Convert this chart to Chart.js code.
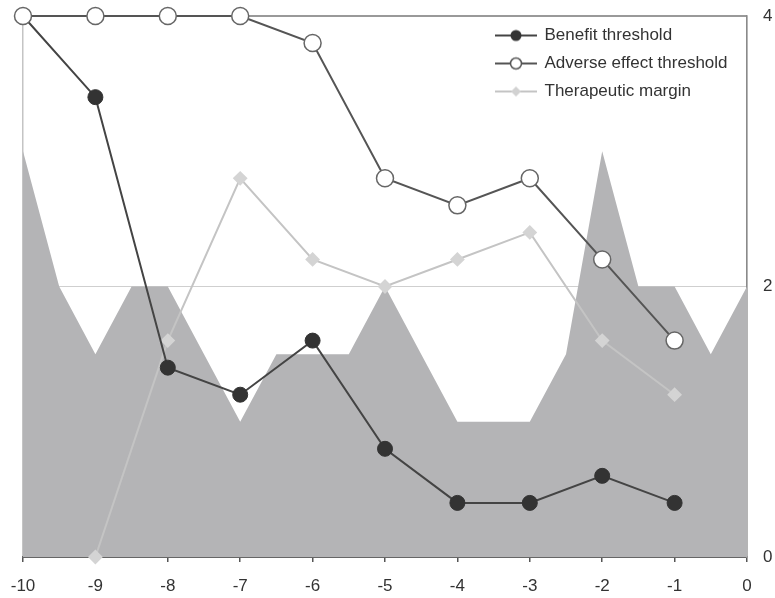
<!DOCTYPE html>
<html lang="en">
<head>
    <meta charset="UTF-8">
    <title>Benefit and adverse effect thresholds</title>
    <script src="https://cdn.jsdelivr.net/npm/chart.js"></script>
    <style>
        body { margin: 0; background: #fff; }
        #wrap { width: 775px; height: 598px; }
    </style>
</head>
<body>
    <div id="wrap"><canvas id="myChart"></canvas></div>

    <script>
        // Values
        const pointX = [-10, -9, -8, -7, -6, -5, -4, -3, -2, -1];
        const benefit = [4, 3.4, 1.4, 1.2, 1.6, 0.8, 0.4, 0.4, 0.6, 0.4];
        const adverse = [4, 4, 4, 4, 3.8, 2.8, 2.6, 2.8, 2.2, 1.6];
        const marginX = [-9, -8, -7, -6, -5, -4, -3, -2, -1];
        const margin = [0, 1.6, 2.8, 2.2, 2.0, 2.2, 2.4, 1.6, 1.2];
        // gray background profile, every half step
        const areaX = [-10, -9.5, -9, -8.5, -8, -7.5, -7, -6.5, -6, -5.5, -5,
                       -4.5, -4, -3.5, -3, -2.5, -2, -1.5, -1, -0.5, 0];
        const area = [3, 2, 1.5, 2, 2, 1.5, 1, 1.5, 1.5, 1.5, 2,
                      1.5, 1, 1, 1, 1.5, 3, 2, 2, 1.5, 2];
        const seriesNames = ['Benefit threshold', 'Adverse effect threshold', 'Therapeutic margin'];
        const yTicks = [0, 2, 4];

        const FONT = '"Liberation Sans", Arial, sans-serif';
        const toXY = (xs, ys) => xs.map((x, i) => ({ x: x, y: ys[i] }));

        // little line+marker pictures for the legend
        function legendIcon(lineColor, draw) {
            const c = document.createElement('canvas');
            c.width = 42; c.height = 16;
            const g = c.getContext('2d');
            g.strokeStyle = lineColor;
            g.lineWidth = 2;
            g.beginPath(); g.moveTo(0, 8); g.lineTo(42, 8); g.stroke();
            draw(g);
            return c;
        }
        const icons = [
            legendIcon('#444', g => {
                g.fillStyle = '#333';
                g.beginPath(); g.arc(21, 8, 5.5, 0, Math.PI * 2); g.fill();
            }),
            legendIcon('#555', g => {
                g.fillStyle = '#fff'; g.strokeStyle = '#555'; g.lineWidth = 1.5;
                g.beginPath(); g.arc(21, 8, 5.5, 0, Math.PI * 2); g.fill(); g.stroke();
            }),
            legendIcon('#c4c4c4', g => {
                g.fillStyle = '#d2d2d2';
                g.beginPath(); g.moveTo(21, 3); g.lineTo(26, 8); g.lineTo(21, 13); g.lineTo(16, 8);
                g.closePath(); g.fill();
            })
        ];

        // put the legend inside the plot, top right
        const legendMover = {
            id: 'legendMover',
            afterLayout(chart) {
                const lg = chart.legend;
                const w = lg.width;
                lg.left = 485;
                lg.top = 16;
                lg.right = lg.left + w;
                lg.bottom = lg.top + 200;
            }
        };

        const ctx = document.getElementById('myChart').getContext('2d');
        const chart = new Chart(ctx, {
            type: 'line',
            data: {
                datasets: [
                    {
                        label: seriesNames[0],
                        data: toXY(pointX, benefit),
                        borderColor: '#444',
                        borderWidth: 2,
                        pointBackgroundColor: '#333',
                        pointBorderColor: '#333',
                        pointBorderWidth: 1,
                        pointRadius: 7.5,
                        clip: false,
                        order: 1
                    },
                    {
                        label: seriesNames[1],
                        data: toXY(pointX, adverse),
                        borderColor: '#555',
                        borderWidth: 2,
                        pointBackgroundColor: '#fff',
                        pointBorderColor: '#666',
                        pointBorderWidth: 1.5,
                        pointRadius: 8.5,
                        clip: false,
                        order: 0
                    },
                    {
                        label: seriesNames[2],
                        data: toXY(marginX, margin),
                        borderColor: '#c4c4c4',
                        borderWidth: 2,
                        pointStyle: 'rectRot',
                        pointBackgroundColor: '#d4d4d4',
                        pointBorderColor: '#d4d4d4',
                        pointRadius: 6,
                        clip: false,
                        order: 2
                    },
                    {
                        label: 'background',
                        data: toXY(areaX, area),
                        borderWidth: 0,
                        borderColor: 'rgba(0,0,0,0)',
                        backgroundColor: '#b4b4b6',
                        fill: 'origin',
                        pointRadius: 0,
                        order: 3
                    }
                ]
            },
            options: {
                responsive: true,
                maintainAspectRatio: false,
                animation: false,
                layout: { padding: { left: 23, top: 16, right: 0, bottom: 0 } },
                plugins: {
                    tooltip: { enabled: false },
                    legend: {
                        position: 'chartArea',
                        align: 'start',
                        labels: {
                            color: '#333',
                            font: { family: FONT, size: 17 },
                            usePointStyle: true,
                            pointStyleWidth: 40,
                            padding: 11,
                            filter: item => item.datasetIndex < 3,
                            sort: (a, b) => a.datasetIndex - b.datasetIndex,
                            generateLabels(chart) {
                                const items = Chart.defaults.plugins.legend.labels.generateLabels(chart);
                                items.forEach(it => { it.pointStyle = icons[it.datasetIndex]; });
                                return items;
                            }
                        }
                    }
                },
                scales: {
                    x: {
                        type: 'linear',
                        min: -10,
                        max: 0,
                        afterFit: axis => {
                            axis.height = 41;
                            axis.paddingLeft = 0; axis.paddingRight = 0;
                        },
                        ticks: {
                            stepSize: 1,
                            color: '#333',
                            padding: 14,
                            font: { family: FONT, size: 17 }
                        },
                        grid: {
                            color: c => (c.tick && (c.tick.value === -10 || c.tick.value === 0)) ? '#c4c4c4' : 'rgba(0,0,0,0)',
                            tickColor: '#555',
                            tickLength: 5,
                            lineWidth: 1.5
                        },
                        border: { color: '#666', width: 2 }
                    },
                    y: {
                        position: 'right',
                        min: 0,
                        max: 4,
                        afterBuildTicks: axis => { axis.ticks = yTicks.map(v => ({ value: v })); },
                        afterFit: axis => {
                            axis.width = 28;
                            axis.paddingTop = 0; axis.paddingBottom = 0;
                        },
                        ticks: {
                            color: '#333',
                            padding: 16,
                            font: { family: FONT, size: 17 }
                        },
                        grid: {
                            drawTicks: false,
                            color: c => c.tick.value === 2 ? '#cfcfcf' : (c.tick.value === 4 ? '#999' : 'rgba(0,0,0,0)'),
                            lineWidth: c => c.tick.value === 4 ? 2 : 1
                        },
                        border: { color: '#8a8a8a', width: 1.5 }
                    }
                }
            },
            plugins: [legendMover]
        });
    </script>
</body>
</html>
